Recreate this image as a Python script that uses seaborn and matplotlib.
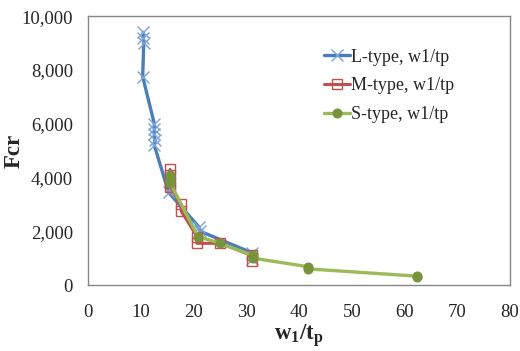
import matplotlib
matplotlib.use("Agg")
import matplotlib.pyplot as plt
import matplotlib.ticker as mticker
import numpy as np
import pandas as pd
import seaborn as sns

# values
l_x = [10.4, 10.4, 10.5, 10.3, 12.5, 12.5, 12.5, 12.6, 12.5, 15.2, 21.0, 21.2, 31.0, 31.0]
l_y = [9400, 9200, 9000, 7750, 6000, 5800, 5600, 5400, 5200, 3450, 2150, 2000, 1200, 950]

m_x = [15.5, 15.5, 15.5, 15.5, 17.6, 17.6, 20.6, 20.6, 25.0, 31.0, 31.0]
m_y = [4300, 4100, 3800, 3650, 3000, 2750, 1800, 1550, 1550, 1100, 880]

s_x = [15.5, 15.5, 15.5, 15.5, 20.8, 25.0, 31.2, 31.2, 41.7, 41.7, 62.3, 62.3]
s_y = [4100, 4000, 3900, 3800, 1800, 1550, 1100, 1000, 680, 600, 330, 280]

x_ticks = [0, 10, 20, 30, 40, 50, 60, 70, 80]
y_ticks = [0, 2000, 4000, 6000, 8000, 10000]

sns.set_style("white")
plt.rcParams["font.family"] = ["Liberation Serif", "DejaVu Serif"]
plt.rcParams["mathtext.fontset"] = "custom"
plt.rcParams["mathtext.rm"] = "Liberation Serif"
plt.rcParams["mathtext.bf"] = "Liberation Serif:bold"
plt.rcParams["mathtext.it"] = "Liberation Serif:italic"

fig = plt.figure(figsize=(5.2, 3.51), dpi=100)
ax = fig.add_axes([0.170, 0.188, 0.811, 0.766])

sns.lineplot(x=l_x, y=l_y, ax=ax, estimator=None, sort=False,
             color="#4A7EBB", lw=2.4, marker="x", markersize=8,
             markeredgecolor="#7BA3D9", markeredgewidth=1.0,
             label="L-type, w1/tp")
sns.lineplot(x=m_x, y=m_y, ax=ax, estimator=None, sort=False,
             color="#C0504D", lw=2.2, marker="s", markersize=7,
             markerfacecolor="none", markeredgecolor="#C0504D",
             markeredgewidth=1.0, label="M-type, w1/tp")
sns.lineplot(x=s_x, y=s_y, ax=ax, estimator=None, sort=False,
             color="#9BBB59", lw=2.4, marker="o", markersize=6.5,
             markerfacecolor="#77933C", markeredgecolor="#77933C",
             label="S-type, w1/tp")

ax.set_xlim(0, 80)
ax.set_ylim(0, 10000)
ax.set_xticks(x_ticks)
ax.set_yticks(y_ticks)
ax.yaxis.set_major_formatter(mticker.FuncFormatter(lambda v, p: f"{int(v):,}"))
ax.tick_params(direction="in", length=5, width=0.8, color="#868686",
               labelsize=13.5)
ax.tick_params(axis="x", pad=14)
ax.tick_params(axis="y", pad=11)
for sp in ax.spines.values():
    sp.set_color("#868686")
    sp.set_linewidth(1.0)

ax.set_xlabel(r"$\mathbf{w_1/t_p}$", fontsize=16.5)
ax.xaxis.set_label_coords(0.5, -0.14)
ax.set_ylabel("Fcr", fontsize=16.5, fontweight="bold")
ax.yaxis.set_label_coords(-0.15, 0.5)

leg = ax.legend(loc="upper left", bbox_to_anchor=(0.52, 0.94), frameon=False,
                fontsize=13, handlelength=1.45, handletextpad=0.05,
                labelspacing=0.65)

fig.savefig("out.png", dpi=100)
